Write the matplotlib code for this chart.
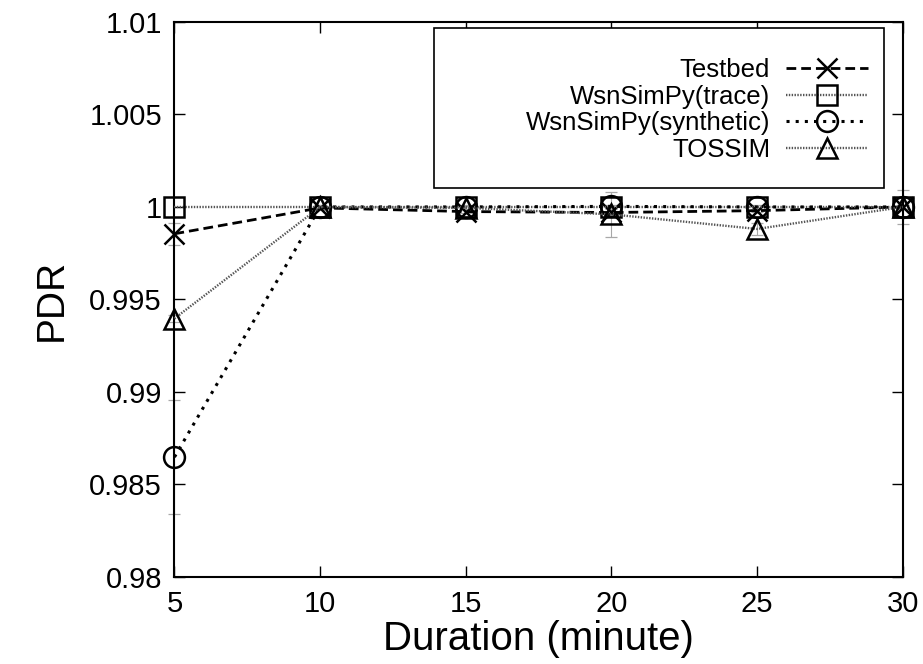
import matplotlib
matplotlib.use('Agg')
import matplotlib.pyplot as plt
from matplotlib.patches import Rectangle

plt.rcParams['font.family'] = ['Liberation Sans', 'DejaVu Sans']

durations = [5, 10, 15, 20, 25, 30]

testbed = [0.99855, 0.99995, 0.99975, 0.9997, 0.9998, 1.0]
testbed_err = [0.0006, 0.0001, 0.0001, 0.0002, 0.0001, 0.0009]

trace = [1.0, 1.0, 1.0, 1.0, 1.0, 1.0]

synthetic = [0.98648, 1.0, 1.0, 1.00003, 1.0, 1.0]
synthetic_err = [0.0031, 0.0001, 0.0001, 0.0001, 0.0001, 0.0001]

tossim = [0.99397, 1.0, 0.99995, 0.9996, 0.99881, 1.0]
tossim_err = [0.0002, 0.0001, 0.0001, 0.0012, 0.0003, 0.0001]

fig, ax = plt.subplots(figsize=(9.23, 6.64), dpi=100)
fig.subplots_adjust(left=0.189, right=0.978, top=0.967, bottom=0.131)

# faint error bars, kept under the axis lines
err_kw = dict(fmt='none', ecolor='#a8a8a8', elinewidth=0.8, capsize=4, capthick=0.9,
              zorder=2, clip_on=False)
ax.errorbar(durations, testbed, yerr=testbed_err, **err_kw)
ax.errorbar(durations, synthetic, yerr=synthetic_err, **err_kw)
ax.errorbar(durations, tossim, yerr=tossim_err, **err_kw)

line_kw = dict(ms=15, mew=1.8, mfc='none', mec='black', clip_on=False, zorder=3)
ax.plot(durations, testbed, color='black', ls=(0, (3.5, 1.8)), lw=2,
        marker='x', label='Testbed', **line_kw)
ax.plot(durations, trace, color='#555555', ls=(0, (0.6, 0.6)), lw=1.7,
        marker='s', label='WsnSimPy(trace)', **line_kw)
ax.plot(durations, synthetic, color='black', ls=(0, (1, 2)), lw=2.2,
        marker='o', label='WsnSimPy(synthetic)', **line_kw)
ax.plot(durations, tossim, color='#555555', ls=(0, (0.6, 0.6)), lw=1.7,
        marker='^', label='TOSSIM', **line_kw)

ax.set_xlim(5, 30)
ax.set_ylim(0.98, 1.01)
ax.set_xticks(durations)
ax.set_yticks([0.98, 0.985, 0.99, 0.995, 1.0, 1.005, 1.01])
ax.set_yticklabels(['0.98', '0.985', '0.99', '0.995', '1', '1.005', '1.01'])
ax.tick_params(direction='in', top=True, right=True, length=8, width=1, labelsize=21, pad=9)
for s in ax.spines.values():
    s.set_linewidth(1.5)

ax.set_xlabel('Duration (minute)', fontsize=29, labelpad=2)
ax.set_ylabel('PDR', fontsize=28, labelpad=14)

# legend box like gnuplot's key
ax.add_patch(Rectangle((0.3567, 0.7009), 0.6173, 0.2881, transform=ax.transAxes,
                       fill=True, facecolor='white', edgecolor='black', lw=1.2, zorder=4))
leg = ax.legend(loc='upper right', bbox_to_anchor=(0.952, 0.935), fontsize=18.5,
                markerfirst=False, frameon=False, handlelength=3.2, handletextpad=0.6,
                borderpad=0, labelspacing=0.1, borderaxespad=0)
leg.set_zorder(5)
for t in leg.get_texts():
    t.set_ha('right')
leg._legend_box.align = 'right'

plt.savefig('out.png', dpi=100)
